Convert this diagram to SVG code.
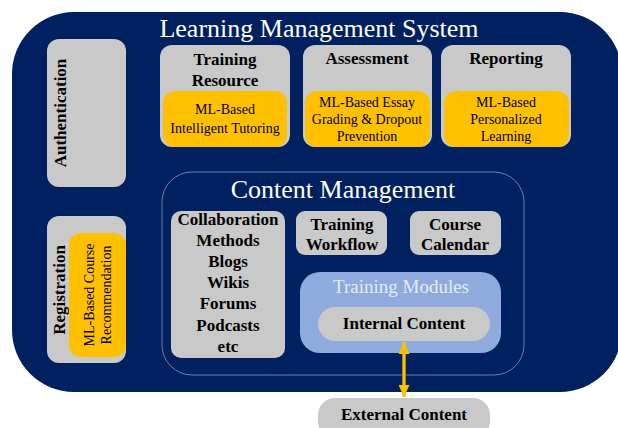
<svg xmlns="http://www.w3.org/2000/svg" width="618" height="428" viewBox="0 0 618 428">
<style>
.gray{fill:#c9c9c9}
.orange{fill:#ffc000}
.bold{font-family:"Liberation Serif","Times New Roman",serif;font-weight:bold;font-size:17px;fill:#000;text-anchor:middle}
.reg{font-family:"Liberation Serif","Times New Roman",serif;font-size:14px;fill:#000;text-anchor:middle}
.big{font-family:"Liberation Serif","Times New Roman",serif;font-size:26px;fill:#fff;text-anchor:middle}
</style>
<defs>
<marker id="ah" viewBox="0 0 12 11" refX="12" refY="5.5" markerWidth="12" markerHeight="11" orient="auto-start-reverse" markerUnits="userSpaceOnUse">
<path d="M0,0 L12,5.5 L0,11 Z" fill="#ffc000"/>
</marker>
</defs>
<rect width="618" height="428" fill="#fff"/>
<g id="lms">
<rect x="12" y="12" width="610" height="380" rx="62" fill="#002060"/>
<text class="big" x="319" y="37">Learning Management System</text>
</g>
<g id="authentication">
<rect class="gray" x="47" y="39" width="79" height="148" rx="12"/>
<text class="bold" transform="translate(66,113) rotate(-90)">Authentication</text>
</g>
<g id="training-resource">
<rect class="gray" x="160" y="45" width="130" height="102" rx="12"/>
<text class="bold" x="225" y="65">Training</text>
<text class="bold" x="225" y="86">Resource</text>
<rect class="orange" x="163" y="91" width="124" height="56" rx="12"/>
<text class="reg" x="225" y="114">ML-Based</text>
<text class="reg" x="225" y="133">Intelligent Tutoring</text>
</g>
<g id="assessment">
<rect class="gray" x="303" y="45" width="129" height="102" rx="12"/>
<text class="bold" x="367" y="64">Assessment</text>
<rect class="orange" x="305" y="91" width="125" height="56" rx="12"/>
<text class="reg" x="367" y="107">ML-Based Essay</text>
<text class="reg" x="367" y="124">Grading &amp; Dropout</text>
<text class="reg" x="367" y="141">Prevention</text>
</g>
<g id="reporting">
<rect class="gray" x="441" y="45" width="130" height="102" rx="12"/>
<text class="bold" x="506" y="64">Reporting</text>
<rect class="orange" x="444" y="91" width="125" height="56" rx="12"/>
<text class="reg" x="506" y="107">ML-Based</text>
<text class="reg" x="506" y="124">Personalized</text>
<text class="reg" x="506" y="141">Learning</text>
</g>
<g id="registration">
<rect class="gray" x="47" y="216" width="79" height="147" rx="12"/>
<text class="bold" transform="translate(65,290) rotate(-90)">Registration</text>
<rect class="orange" x="69" y="233" width="57" height="124" rx="12"/>
<text class="reg" transform="translate(94,295) rotate(-90)">ML-Based Course</text>
<text class="reg" transform="translate(111,295) rotate(-90)">Recommendation</text>
</g>
<g id="content-management">
<rect x="162" y="172" width="362" height="203" rx="30" fill="none" stroke="#8a96b8" stroke-width="0.8"/>
<text class="big" x="343" y="198">Content Management</text>
</g>
<g id="collaboration">
<rect class="gray" x="171" y="211" width="114" height="147" rx="10"/>
<text class="bold" x="228" y="225">Collaboration</text>
<text class="bold" x="228" y="246">Methods</text>
<text class="bold" x="228" y="267">Blogs</text>
<text class="bold" x="228" y="288">Wikis</text>
<text class="bold" x="228" y="309">Forums</text>
<text class="bold" x="228" y="331">Podcasts</text>
<text class="bold" x="228" y="352">etc</text>
</g>
<g id="training-workflow">
<rect class="gray" x="296" y="211" width="91" height="44" rx="9"/>
<text class="bold" x="342" y="230">Training</text>
<text class="bold" x="342" y="250">Workflow</text>
</g>
<g id="course-calendar">
<rect class="gray" x="410" y="211" width="91" height="44" rx="9"/>
<text class="bold" x="455" y="230">Course</text>
<text class="bold" x="455" y="250">Calendar</text>
</g>
<g id="training-modules">
<rect x="300" y="272" width="201" height="81" rx="20" fill="#8faadc"/>
<text x="401" y="293" font-family="Liberation Serif, Times New Roman, serif" font-size="19" fill="#e6ecf7" text-anchor="middle">Training Modules</text>
</g>
<g id="internal-content">
<rect class="gray" x="318" y="307" width="172" height="34" rx="17"/>
<text class="bold" x="404" y="329">Internal Content</text>
</g>
<g id="external-content">
<rect class="gray" x="318" y="398" width="172" height="40" rx="17"/>
<text class="bold" x="404" y="420">External Content</text>
</g>
<g id="connectors">
<line x1="404" y1="342" x2="404" y2="397" stroke="#ffc000" stroke-width="3.3" marker-start="url(#ah)" marker-end="url(#ah)"/>
</g>
</svg>
